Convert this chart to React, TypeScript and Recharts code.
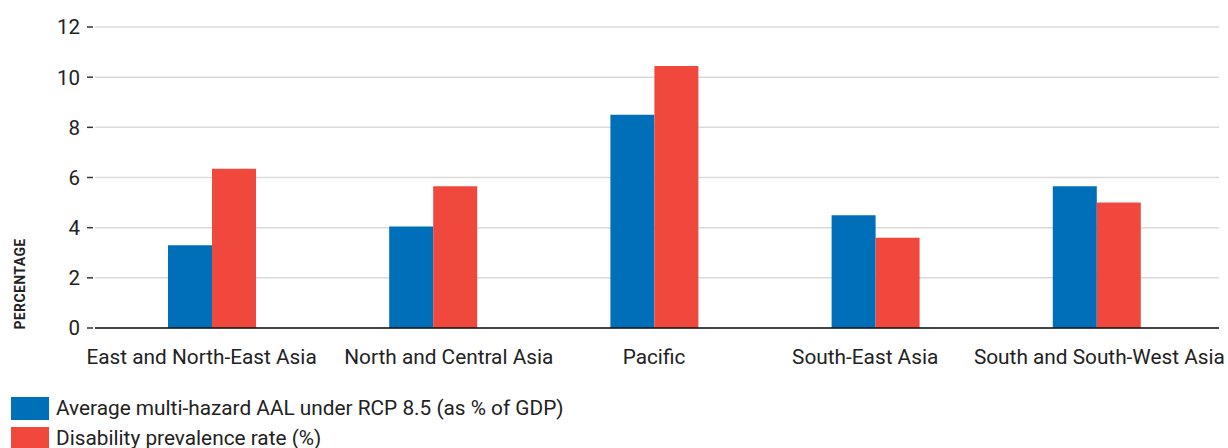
import { BarChart, Bar, CartesianGrid, XAxis, YAxis } from 'recharts';

const FONT = 'Roboto, "Noto Sans", sans-serif';
const BLUE = '#006fba';
const RED = '#f0483c';

const REGIONS = [
  'East and North-East Asia',
  'North and Central Asia',
  'Pacific',
  'South-East Asia',
  'South and South-West Asia',
];
const AAL_RCP85 = [3.3, 4.05, 8.5, 4.5, 5.65];
const DISABILITY_RATE = [6.35, 5.65, 10.45, 3.6, 5.0];
const Y_TICKS = [0, 2, 4, 6, 8, 10, 12];

// small horizontal nudges so the long category labels don't run into each other
const LABEL_NUDGE = [-10, 16, 0, -10, 3];

const SERIES = [
  { key: 'aal', name: 'Average multi-hazard AAL under RCP 8.5 (as % of GDP)', color: BLUE },
  { key: 'dis', name: 'Disability prevalence rate (%)', color: RED },
];

const data = REGIONS.map((region, i) => ({
  region,
  aal: AAL_RCP85[i],
  dis: DISABILITY_RATE[i],
}));

// y tick: label on the left, short dash sitting just inside the plot
function YTick(props: any) {
  const { x, y, payload } = props;
  return (
    <g>
      <line x1={x} x2={x + 6} y1={y} y2={y} stroke="#333" strokeWidth={1.5} />
      <text x={x - 7} y={y} dy="0.36em" textAnchor="end" fill="#222" fontSize={20.5} fontFamily={FONT}>
        {payload.value}
      </text>
    </g>
  );
}

function XTick(props: any) {
  const { x, y, payload, index } = props;
  return (
    <text
      x={x + (LABEL_NUDGE[index] ?? 0)}
      y={y}
      dy="0.71em"
      textAnchor="middle"
      fill="#222"
      fontSize={20.8}
      fontFamily={FONT}
    >
      {payload.value}
    </text>
  );
}

function YLabel() {
  return (
    <text
      x={20}
      y={284}
      transform="rotate(-90 20 284)"
      textAnchor="middle"
      dominantBaseline="central"
      fill="#222"
      fontSize={14}
      fontWeight={700}
      letterSpacing={0.4}
      fontFamily={FONT}
    >
      PERCENTAGE
    </text>
  );
}

export default function App() {
  return (
    <div style={{ position: 'absolute', left: 0, top: 0, width: 1228, height: 448, background: '#fff', fontFamily: FONT }}>
      <BarChart
        width={1228}
        height={390}
        data={data}
        margin={{ top: 27, right: 9, bottom: 22, left: 0 }}
        barGap={0}
        barSize={44}
      >
        <CartesianGrid vertical={false} stroke="#dadada" strokeWidth={1.5} />
        <YAxis
          width={95}
          domain={[0, 12]}
          ticks={Y_TICKS}
          axisLine={false}
          tickLine={false}
          tick={<YTick />}
          label={{ content: () => <YLabel /> }}
        />
        <XAxis
          dataKey="region"
          height={40}
          padding={{ left: 6, right: 12 }}
          tickLine={false}
          tickSize={0}
          tickMargin={21}
          axisLine={{ stroke: '#111', strokeWidth: 1.5 }}
          tick={<XTick />}
          interval={0}
        />
        {SERIES.map((s) => (
          <Bar key={s.key} dataKey={s.key} name={s.name} fill={s.color} isAnimationActive={false} />
        ))}
      </BarChart>
      <div style={{ position: 'absolute', left: 11, top: 397 }}>
        {SERIES.map((s) => (
          <div key={s.key} style={{ display: 'flex', alignItems: 'center', height: 23, marginBottom: 7 }}>
            <div style={{ width: 38, height: 23, background: s.color, flexShrink: 0 }} />
            <span style={{ marginLeft: 7, fontSize: 20.8, lineHeight: '23px', color: '#222', whiteSpace: 'nowrap' }}>{s.name}</span>
          </div>
        ))}
      </div>
    </div>
  );
}
